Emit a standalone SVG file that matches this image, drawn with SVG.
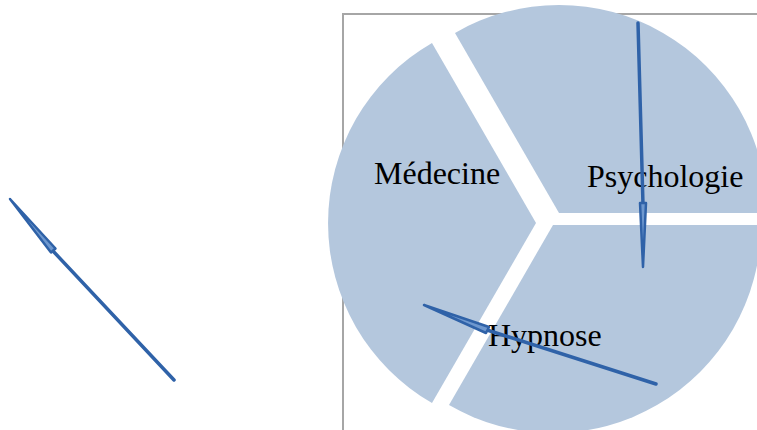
<svg xmlns="http://www.w3.org/2000/svg" width="757" height="430" viewBox="0 0 757 430">
  <style>
    .frame { fill: none; stroke: #A6A6A6; stroke-width: 2; }
    .slice { fill: #B4C7DD; stroke: none; }
    .lbl { font-family: "Liberation Serif", "Times New Roman", serif; font-size: 32px; fill: #000; }
    .ln { fill: none; stroke: #2F62A8; stroke-width: 3.5; stroke-linecap: round; }
    .head { fill: #6E98CF; stroke: #2F62A8; stroke-width: 2.5; stroke-linejoin: round; }
  </style>
  <rect width="757" height="430" fill="#FFFFFF"/>
  <path class="frame" d="M343 430 L343 14 L757 14"/>
  <g id="medecine">
    <path class="slice" d="M536 223 L432 42.9 A208 208 0 0 0 432 403.1 Z"/>
    <text class="lbl" x="374" y="184">Médecine</text>
  </g>
  <g id="psychologie">
    <path class="slice" d="M559 213 L455 32.9 A208 208 0 0 1 767 213 Z"/>
    <text class="lbl" x="587" y="187">Psychologie</text>
  </g>
  <g id="hypnose">
    <path class="slice" d="M553 225 L761 225 A208 208 0 0 1 449 405.1 Z"/>
    <text class="lbl" x="488" y="346">Hypnose</text>
  </g>
  <g id="connectors">
    <line class="ln" x1="53" y1="251" x2="174" y2="380"/>
    <path class="head" d="M10 199 L55.5 248.5 L51 252.5 Z"/>
    <line class="ln" x1="638" y1="23" x2="643" y2="205"/>
    <path class="head" d="M643 267 L646 203 L640 203 Z"/>
    <line class="ln" x1="487" y1="330" x2="656" y2="384"/>
    <path class="head" d="M424 305 L489 327 L486 333 Z"/>
  </g>
</svg>
